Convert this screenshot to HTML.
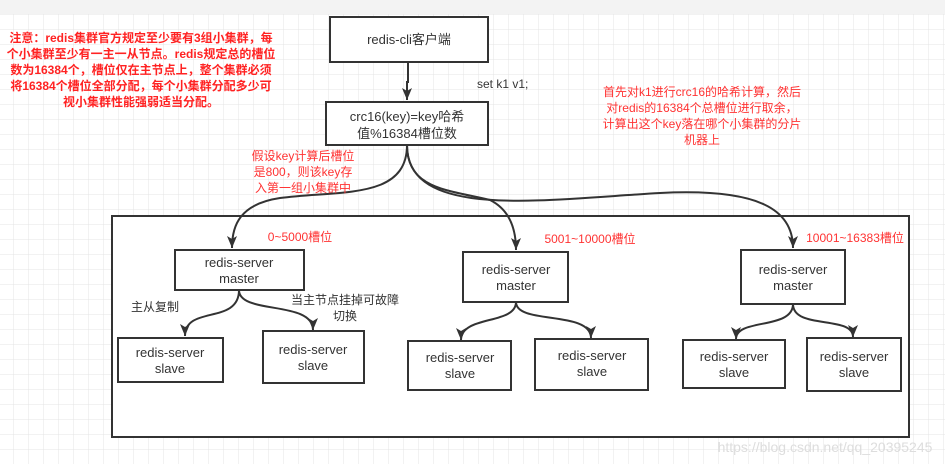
<!DOCTYPE html>
<html><head><meta charset="utf-8"><style>
body{margin:0;width:945px;height:464px;overflow:hidden;background:#fff;font-family:"Liberation Sans","Noto Sans CJK SC",sans-serif}
svg{position:absolute;left:0;top:0}
</style></head><body>
<svg width="945" height="464" xmlns="http://www.w3.org/2000/svg">
<defs>
<pattern id="g" x="13" y="14" width="15" height="15" patternUnits="userSpaceOnUse">
<path d="M0 0H15M0 0V15" stroke="#e4e4e4" stroke-width="1" fill="none"/>
</pattern>
<marker id="a" markerWidth="13" markerHeight="11" refX="12" refY="5" orient="auto" markerUnits="userSpaceOnUse" viewBox="0 0 13 11">
<path d="M0 0L12 5L0 10L3 5Z" fill="#333"/>
</marker>
</defs>
<rect x="0" y="14" width="945" height="450" fill="url(#g)"/>
<rect x="0" y="0" width="945" height="14" fill="#f3f3f3"/>
<g fill="none" stroke="#333" stroke-width="2">
<rect x="112" y="216" width="797" height="221" fill="#fff"/>
<rect x="330" y="17" width="158" height="45" fill="#fff"/>
<rect x="326" y="102" width="162" height="43" fill="#fff"/>
<rect x="175" y="250" width="129" height="40" fill="#fff"/>
<rect x="118" y="338" width="105" height="44" fill="#fff"/>
<rect x="263" y="331" width="101" height="52" fill="#fff"/>
<rect x="463" y="252" width="105" height="50" fill="#fff"/>
<rect x="408" y="341" width="103" height="49" fill="#fff"/>
<rect x="535" y="339" width="113" height="51" fill="#fff"/>
<rect x="741" y="250" width="104" height="54" fill="#fff"/>
<rect x="683" y="340" width="102" height="48" fill="#fff"/>
<rect x="807" y="338" width="94" height="53" fill="#fff"/>
</g>
<g fill="none" stroke="#333" stroke-width="2" marker-end="url(#a)">
<path d="M408 62V82H407V100"/>
<path d="M407 145C407 200 340 190 280 198C240 204 232 225 232 248"/>
<path d="M407 145C407 190 450 190 490 200C510 210 516 230 516 250"/>
<path d="M407 145C407 220 540 200 660 193C760 188 793 210 793 248"/>
<path d="M239 290C239 325 185 305 185 336"/>
<path d="M239 290C239 315 313 300 313 330"/>
<path d="M516 302C516 325 461 315 461 340"/>
<path d="M516 302C516 325 591 310 591 338"/>
<path d="M793 304C793 330 736 318 736 339"/>
<path d="M793 304C793 330 853 315 853 337"/>
</g>
<g font-size="13" fill="#333" text-anchor="middle">
<text x="409" y="44">redis-cli客户端</text>
<text x="407" y="121">crc16(key)=key哈希</text>
<text x="407" y="138">值%16384槽位数</text>
<text x="477" y="88" text-anchor="start" font-size="12">set k1 v1;</text>
<text x="239" y="267">redis-server</text><text x="239" y="283">master</text>
<text x="170" y="357">redis-server</text><text x="170" y="373">slave</text>
<text x="313" y="354">redis-server</text><text x="313" y="370">slave</text>
<text x="516" y="274">redis-server</text><text x="516" y="290">master</text>
<text x="460" y="362">redis-server</text><text x="460" y="378">slave</text>
<text x="592" y="360">redis-server</text><text x="592" y="376">slave</text>
<text x="793" y="274">redis-server</text><text x="793" y="290">master</text>
<text x="734" y="361">redis-server</text><text x="734" y="377">slave</text>
<text x="854" y="361">redis-server</text><text x="854" y="377">slave</text>
<text x="155" y="311" font-size="12">主从复制</text>
<text x="345" y="304" font-size="12">当主节点挂掉可故障</text>
<text x="345" y="320" font-size="12">切换</text>
</g>
<g fill="#ff3333" text-anchor="middle" font-size="12">
<text x="300" y="241">0~5000槽位</text>
<text x="590" y="243">5001~10000槽位</text>
<text x="855" y="242">10001~16383槽位</text>
<text x="303" y="160">假设key计算后槽位</text>
<text x="303" y="176">是800，则该key存</text>
<text x="303" y="192">入第一组小集群中</text>
<text x="702" y="96">首先对k1进行crc16的哈希计算，然后</text>
<text x="702" y="112">对redis的16384个总槽位进行取余，</text>
<text x="702" y="128">计算出这个key落在哪个小集群的分片</text>
<text x="702" y="144">机器上</text>
</g>
<g fill="#ff2222" text-anchor="middle" font-size="12" font-weight="bold">
<text x="141" y="42">注意：redis集群官方规定至少要有3组小集群，每</text>
<text x="141" y="58">个小集群至少有一主一从节点。redis规定总的槽位</text>
<text x="141" y="74">数为16384个，槽位仅在主节点上，整个集群必须</text>
<text x="141" y="90">将16384个槽位全部分配，每个小集群分配多少可</text>
<text x="141" y="106">视小集群性能强弱适当分配。</text>
</g>
<text x="825" y="452" text-anchor="middle" font-size="14" fill="#ddd">https://blog.csdn.net/qq_20395245</text>
</svg>
</body></html>
